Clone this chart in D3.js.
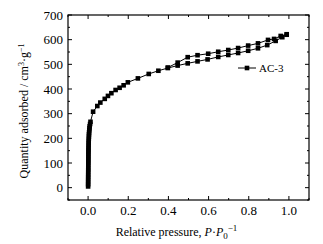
<!DOCTYPE html>
<html>
<head>
<meta charset="utf-8">
<script src="https://cdn.jsdelivr.net/npm/d3@7"></script>
<style>
  body { margin: 0; background: #fff; }
  text { font-family: "Liberation Serif", "Times New Roman", serif; fill: #000; }
</style>
</head>
<body>
<div id="chart"></div>
<script>
// low-pressure uptake (the thick vertical run at P/P0 ~ 0)
const lowX = [0.0002, 0.0003, 0.0004, 0.0005, 0.0006, 0.0007, 0.0008, 0.0009, 0.001, 0.0011,
              0.0012, 0.0013, 0.0014, 0.0015, 0.0016, 0.0018, 0.002, 0.0022, 0.0025, 0.0028,
              0.0031, 0.0035, 0.004, 0.0045, 0.005, 0.006, 0.007, 0.008, 0.01, 0.012];
const lowY = [5, 14, 24, 33, 43, 52, 62, 71, 80, 90,
              99, 108, 117, 126, 135, 144, 153, 162, 171, 180,
              189, 198, 207, 216, 224, 233, 241, 249, 258, 267];

// adsorption branch
const adsX = [0.025, 0.046, 0.061, 0.083, 0.099, 0.116, 0.137, 0.157, 0.177, 0.198,
              0.248, 0.302, 0.35, 0.397, 0.446, 0.496, 0.545, 0.595, 0.648, 0.698,
              0.747, 0.797, 0.846, 0.892, 0.934, 0.967, 0.989];
const adsY = [308, 331, 345, 360, 372, 383, 396, 405, 415, 427,
              443, 461, 474, 485, 495, 504, 512, 520, 530, 538,
              546, 555, 565, 578, 595, 610, 620];

// desorption branch
const desX = [0.989, 0.959, 0.926, 0.896, 0.846, 0.797, 0.747, 0.698, 0.648, 0.598,
              0.545, 0.496, 0.446, 0.397];
const desY = [622, 615, 603, 599, 585, 576, 566, 558, 551, 543,
              537, 529, 507, 487];

const xTicks = [0, 0.2, 0.4, 0.6, 0.8, 1.0];
const yTicks = [0, 100, 200, 300, 400, 500, 600, 700];
const seriesName = "AC-3";

const margin = { top: 15, right: 14, bottom: 44, left: 68 };
const width = 323 - margin.left - margin.right;
const height = 244 - margin.top - margin.bottom;

const svg = d3.select("#chart").append("svg")
  .attr("width", 323)
  .attr("height", 244);

const g = svg.append("g")
  .attr("transform", "translate(" + margin.left + "," + margin.top + ")");

const x = d3.scaleLinear().domain([-0.1, 1.1]).range([0, width]);
const y = d3.scaleLinear().domain([-50, 700]).range([height, 0]);

// ticks on all four sides, pointing inward
const xMinor = d3.range(-0.1, 1.1001, 0.1).filter(v => !xTicks.some(t => Math.abs(t - v) < 1e-6));
const yMinor = d3.range(-50, 701, 50).filter(v => !yTicks.includes(v));

function tickLines(sel, vals, len, horizontal) {
  vals.forEach(v => {
    if (horizontal) {
      sel.append("line").attr("x1", x(v)).attr("x2", x(v)).attr("y1", height).attr("y2", height - len);
      sel.append("line").attr("x1", x(v)).attr("x2", x(v)).attr("y1", 0).attr("y2", len);
    } else {
      sel.append("line").attr("y1", y(v)).attr("y2", y(v)).attr("x1", 0).attr("x2", len);
      sel.append("line").attr("y1", y(v)).attr("y2", y(v)).attr("x1", width).attr("x2", width - len);
    }
  });
}

const ticks = g.append("g").attr("stroke", "#000").attr("stroke-width", 1);
tickLines(ticks, xTicks, 4, true);
tickLines(ticks, xMinor, 2, true);
tickLines(ticks, yTicks, 4, false);
tickLines(ticks, yMinor, 2, false);

g.append("rect")
  .attr("width", width).attr("height", height)
  .attr("fill", "none").attr("stroke", "#000").attr("stroke-width", 1.2);

g.selectAll(".xlab").data(xTicks).enter().append("text")
  .attr("x", d => x(d)).attr("y", height + 15)
  .attr("text-anchor", "middle").style("font-size", "13px")
  .text(d => d3.format(".1f")(d));

g.selectAll(".ylab").data(yTicks).enter().append("text")
  .attr("x", -5).attr("y", d => y(d) + 4.5)
  .attr("text-anchor", "end").style("font-size", "13px")
  .text(d => d);

// axis titles
const xt = g.append("text")
  .attr("x", width / 2 - 12).attr("y", height + 36)
  .attr("text-anchor", "middle").style("font-size", "12px");
xt.append("tspan").text("Relative pressure, ");
xt.append("tspan").style("font-style", "italic").text("P");
xt.append("tspan").text("·");
xt.append("tspan").style("font-style", "italic").text("P");
xt.append("tspan").attr("dy", 3).style("font-size", "9px").text("0");
xt.append("tspan").attr("dy", -8).style("font-size", "9px").text("−1");

const yt = svg.append("text")
  .attr("transform", "translate(28," + 111 + ") rotate(-90)")
  .attr("text-anchor", "middle").style("font-size", "12px");
yt.append("tspan").text("Quantity adsorbed / cm");
yt.append("tspan").attr("dy", -4).style("font-size", "8px").text("3");
yt.append("tspan").attr("dy", 4).text("·g");
yt.append("tspan").attr("dy", -4).style("font-size", "8px").text("−1");

// data
const low = lowX.map((v, i) => [v, lowY[i]]);
const ads = adsX.map((v, i) => [v, adsY[i]]);
const des = desX.map((v, i) => [v, desY[i]]);
const adsAll = low.concat(ads);

const line = d3.line().x(d => x(d[0])).y(d => y(d[1]));

[adsAll, des].forEach(series => {
  g.append("path").datum(series)
    .attr("d", line)
    .attr("fill", "none").attr("stroke", "#000").attr("stroke-width", 1);
  g.selectAll(null).data(series).enter().append("rect")
    .attr("x", d => x(d[0]) - 2.3).attr("y", d => y(d[1]) - 2.3)
    .attr("width", 4.6).attr("height", 4.6)
    .attr("fill", "#000");
});

// legend
const lg = svg.append("g").attr("transform", "translate(238,68)");
lg.append("line").attr("x1", 0).attr("x2", 18).attr("y1", 0).attr("y2", 0)
  .attr("stroke", "#000").attr("stroke-width", 1);
lg.append("rect").attr("x", 9 - 2.3).attr("y", -2.3).attr("width", 4.6).attr("height", 4.6).attr("fill", "#000");
lg.append("text").attr("x", 21).attr("y", 4).style("font-size", "11px").text(seriesName);
</script>
</body>
</html>
